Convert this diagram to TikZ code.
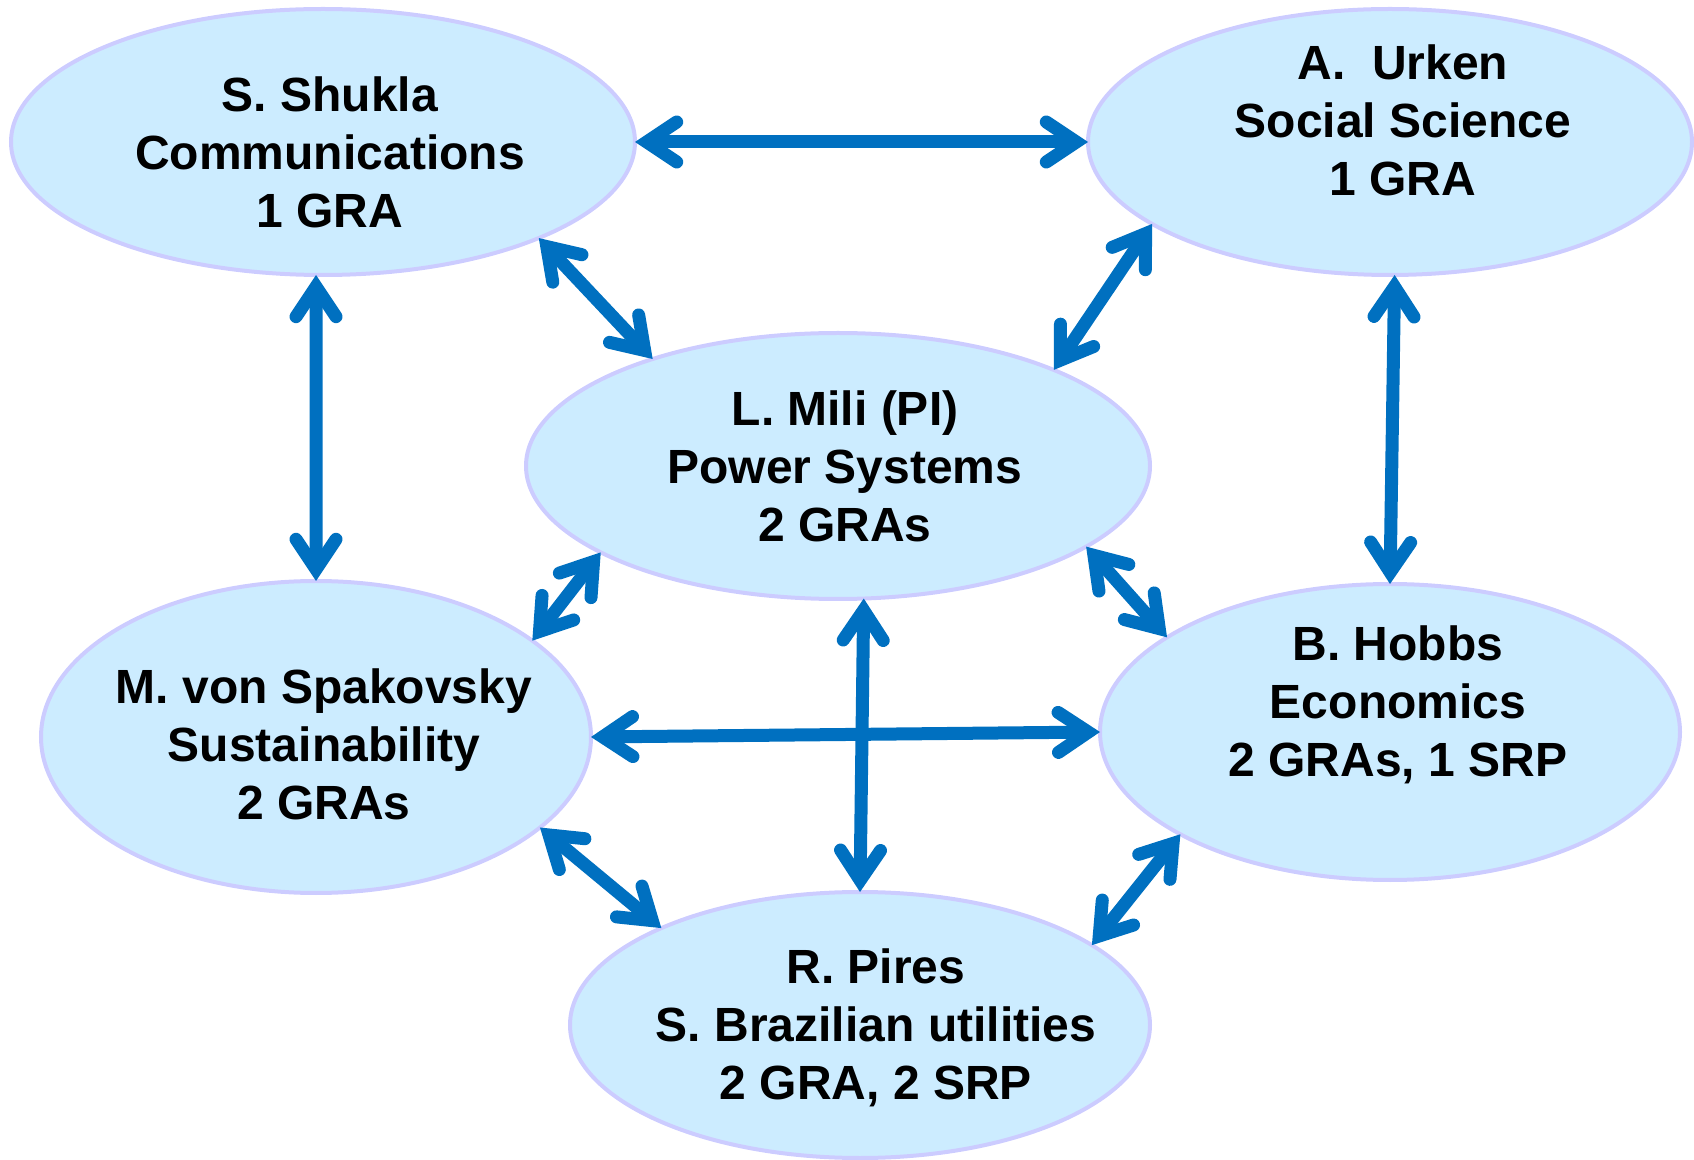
\documentclass[tikz,border=0pt]{standalone}
\usepackage{fontspec}
\setmainfont{Liberation Sans}
\usetikzlibrary{shapes.geometric,arrows.meta}
\definecolor{arrowblue}{HTML}{0070C0}
\definecolor{bubblefill}{HTML}{CCECFF}
\definecolor{bubbleedge}{HTML}{CCCCFF}
\begin{document}
\begin{tikzpicture}[x=0.5pt,y=-0.5pt,
  bubble/.style={ellipse, draw=bubbleedge, fill=bubblefill, line width=2pt,
    inner sep=0pt, outer sep=0pt},
  person/.style={align=center, font=\bfseries\fontsize{24}{29}\selectfont,
    inner sep=0pt},
  barb/.tip={Straight Barb[length=15pt,width=20pt,line cap=round,line join=miter]},
  link/.style={draw=arrowblue, line width=6.5pt, barb-barb}
]
\useasboundingbox (0,0) rectangle (1694,1160);

% team members
\node[bubble, minimum width=312pt, minimum height=133pt] (shukla) at (323,142) {};
\node[bubble, minimum width=302pt, minimum height=133pt] (urken)  at (1390,142) {};
\node[bubble, minimum width=312pt, minimum height=133pt] (mili)   at (838,466) {};
\node[bubble, minimum width=275pt, minimum height=156pt] (spak)   at (316,737) {};
\node[bubble, minimum width=290pt, minimum height=148pt] (hobbs)  at (1390,732) {};
\node[bubble, minimum width=290pt, minimum height=133pt] (pires)  at (860,1025) {};

\node[person] (shuklaT) at (330,152)  {S. Shukla\\Communications\\1 GRA};
\node[person] (urkenT)  at (1403,120) {A.\ \ Urken\\Social Science\\1 GRA};
\node[person] (miliT)   at (845,466)  {L. Mili (PI)\\Power Systems\\2 GRAs};
\node[person] (spakT)   at (324,744)  {M. von Spakovsky\\Sustainability\\2 GRAs};
\node[person] (hobbsT)  at (1398,705) {B. Hobbs\\Economics\\2 GRAs, 1 SRP};
\node[person] (piresT)  at (876,1028) {R. Pires\\S. Brazilian utilities\\2 GRA, 2 SRP};

% collaborations
\draw[link] (shukla.east) -- (urken.west);
\draw[link] (shukla.-24) -- (mili.150);
\draw[link] (urken.199) -- (mili.24);
\draw[link] (shukla.-93) -- (spak.north);
\draw[link] (urken.-88) -- (hobbs.north);
\draw[link] (mili.200) -- (spak.24);
\draw[link] (mili.-18) -- (hobbs.157);
\draw[link] (mili.-79) -- (pires.north);
\draw[link] (spak.east) -- (hobbs.west);
\draw[link] (spak.-22) -- (pires.154);
\draw[link] (hobbs.206) -- (pires.19);
\end{tikzpicture}
\end{document}
